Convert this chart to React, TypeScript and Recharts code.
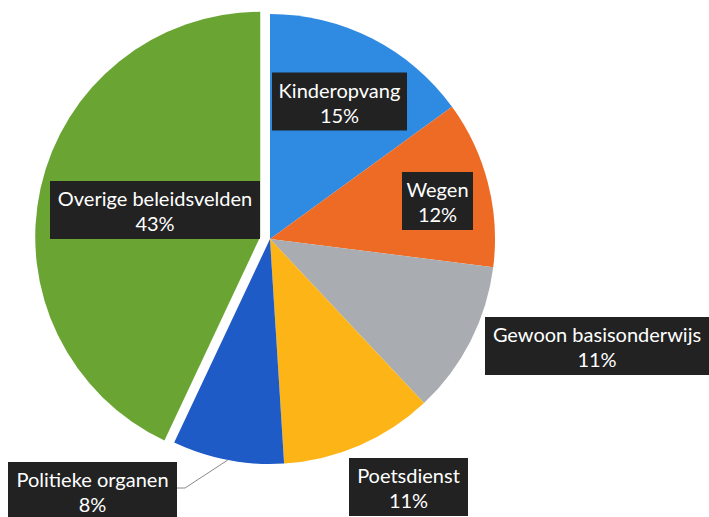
import { PieChart, Pie, Cell } from "recharts";

const names = [
  "Kinderopvang",
  "Wegen",
  "Gewoon basisonderwijs",
  "Poetsdienst",
  "Politieke organen",
  "Overige beleidsvelden",
];
const shares = [15, 12, 11, 11, 8, 43];
const colors = ["#2f8ae2", "#ee6b25", "#a9adb2", "#fdb416", "#1f5bc6", "#6aa534"];

// label boxes, relative to the pie centre
const labelAt = [
  { dx: 69.5, dy: -137.5, w: 135 },
  { dx: 167.5, dy: -38, w: 71 },
  { dx: 327, dy: 107, w: 224 },
  { dx: 138.5, dy: 248, w: 119 },
  { dx: -177.5, dy: 252, w: 169, leader: true },
  { dx: -115, dy: -29, w: 210 },
];

const data = names.map((name, i) => ({ name, value: shares[i] }));

const CX = 270;
const CY = 239;
const R = 225;
const EXPLODE = 10;
const exploded = 5;

const total = shares.reduce((a, b) => a + b, 0);
const before = shares.slice(0, exploded).reduce((a, b) => a + b, 0);
const theta = ((before + shares[exploded] / 2) / total) * 2 * Math.PI;
const cx2 = CX + EXPLODE * Math.sin(theta);
const cy2 = CY - EXPLODE * Math.cos(theta);

const RAD = Math.PI / 180;

function Label(props: any) {
  const { cx, cy, midAngle, outerRadius, index, name, percent } = props;
  const p = labelAt[index];
  const bx = cx + p.dx;
  const by = cy + p.dy;
  const h = 58;
  let leader = null;
  if (p.leader) {
    const ex = cx + outerRadius * Math.cos(-midAngle * RAD);
    const ey = cy + outerRadius * Math.sin(-midAngle * RAD);
    const rx = bx + p.w / 2;
    const ry = by - 3;
    leader = (
      <polyline
        points={`${ex},${ey} ${rx + 8},${ry} ${rx},${ry}`}
        fill="none"
        stroke="#8a8a8a"
        strokeWidth={1}
      />
    );
  }
  return (
    <g>
      {leader}
      <rect x={bx - p.w / 2} y={by - h / 2} width={p.w} height={h} fill="#222222" />
      <text
        x={bx}
        y={by - 12}
        textAnchor="middle"
        dominantBaseline="central"
        fill="#ffffff"
        fontSize={20}
        fontFamily="Lato, 'Open Sans', sans-serif"
      >
        {name}
      </text>
      <text
        x={bx}
        y={by + 13}
        textAnchor="middle"
        dominantBaseline="central"
        fill="#ffffff"
        fontSize={20}
        fontFamily="Lato, 'Open Sans', sans-serif"
      >
        {Math.round(percent * 100)}%
      </text>
    </g>
  );
}

export default function App() {
  return (
    <div style={{ position: "absolute", left: 0, top: 0, background: "#fff" }}>
      <PieChart width={709} height={517} margin={{ top: 0, right: 0, bottom: 0, left: 0 }}>
        <Pie
          data={data}
          dataKey="value"
          nameKey="name"
          cx={cx2}
          cy={cy2}
          outerRadius={R}
          startAngle={90}
          endAngle={-270}
          stroke="none"
          isAnimationActive={false}
        >
          {data.map((d, i) => (
            <Cell key={d.name} fill={i === exploded ? colors[i] : "none"} />
          ))}
        </Pie>
        <Pie
          data={data}
          dataKey="value"
          nameKey="name"
          cx={CX}
          cy={CY}
          outerRadius={R}
          startAngle={90}
          endAngle={-270}
          stroke="none"
          isAnimationActive={false}
          labelLine={false}
          label={Label}
        >
          {data.map((d, i) => (
            <Cell key={d.name} fill={i === exploded ? "none" : colors[i]} />
          ))}
        </Pie>
      </PieChart>
    </div>
  );
}
